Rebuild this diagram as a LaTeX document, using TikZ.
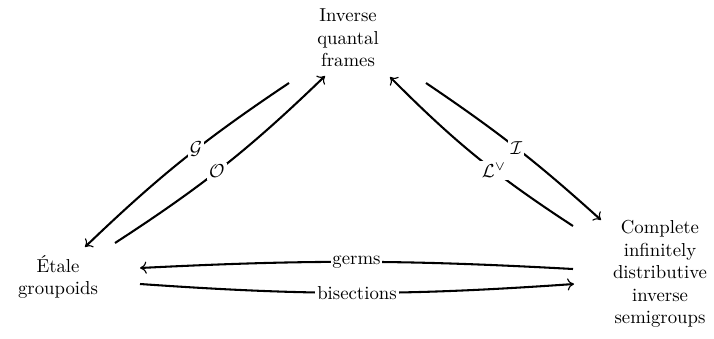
\documentclass[tikz,border=0pt]{standalone}
\usetikzlibrary{arrows.meta}
\begin{document}
\begin{tikzpicture}[x=0.5333pt,y=-0.5333pt,
  obj/.style={align=center,inner sep=0pt},
  arr/.style={line width=1.1pt,-{To[length=3.5pt,width=6.5pt,line width=0.6pt]}},
  lab/.style={fill=white,inner sep=1.2pt},
  lbl/.style={fill=white,inner sep=1pt,font=\normalsize}]
\useasboundingbox (0,0) rectangle (714,339);
\node[obj] (iqf) at (348,38) {Inverse\\quantal\\frames};
\node[obj] (eg) at (58,277) {\'Etale\\groupoids};
\node[obj] (cid) at (660,274) {Complete\\infinitely\\distributive\\inverse\\semigroups};
% free ends
\coordinate (g1) at (289,83);  \coordinate (g2) at (85,247);
\coordinate (o1) at (115,243); \coordinate (o2) at (325,76);
\coordinate (i1) at (426,83);  \coordinate (i2) at (601,220);
\coordinate (l1) at (573,226); \coordinate (l2) at (390,77);
\coordinate (ge1) at (573,269); \coordinate (ge2) at (140,268);
\coordinate (b1) at (140,284); \coordinate (b2) at (574,284);
\draw[arr] (g1) to[bend right=5] node[lab,pos=0.43] {$\mathcal{G}$} (g2);
\draw[arr] (o1) to[bend right=5.5] node[lab,pos=0.46] {$\mathcal{O}$} (o2);
\draw[arr] (i1) to[bend left=4] node[lab,pos=0.5] {$\mathcal{I}$} (i2);
\draw[arr] (l1) to[bend left=6] node[lab,pos=0.4] {$\mathcal{L}^{\vee}$} (l2);
\draw[arr] (ge1) to[bend right=3] node[lbl] {germs} (ge2);
\draw[arr] (b1) to[bend right=4] node[lbl] {bisections} (b2);
\end{tikzpicture}
\end{document}
